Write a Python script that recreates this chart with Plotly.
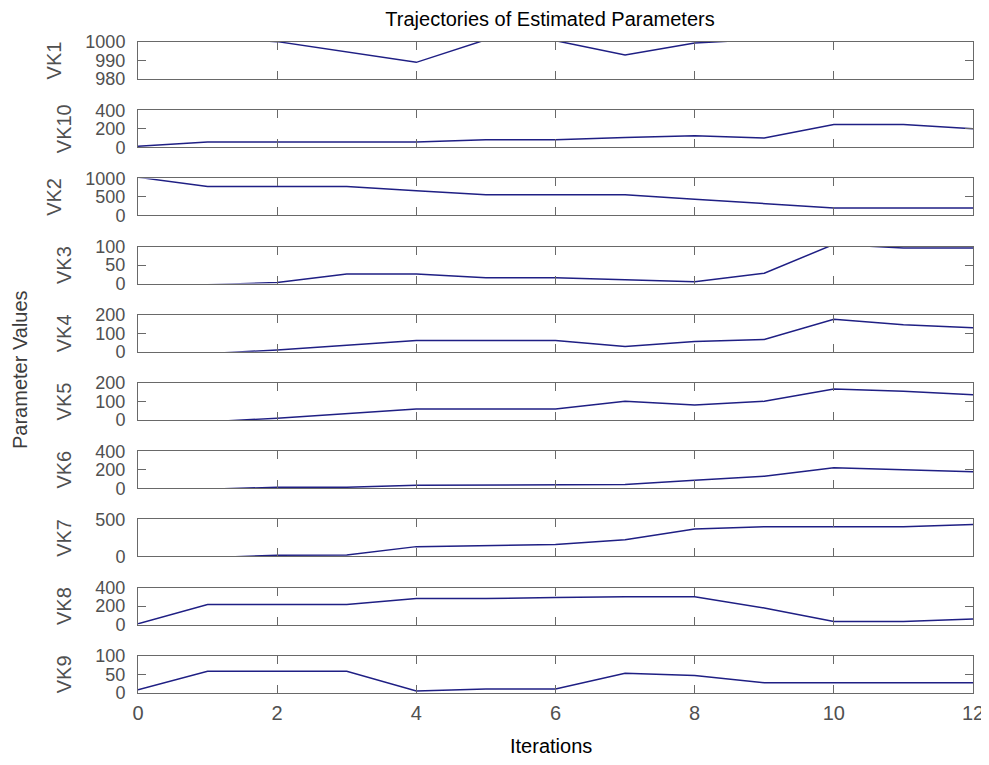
import plotly.graph_objects as go

# ---- data ----
iterations = [0, 1, 2, 3, 4, 5, 6, 7, 8, 9, 10, 11, 12]
panel_names = ["VK1", "VK10", "VK2", "VK3", "VK4", "VK5", "VK6", "VK7", "VK8", "VK9"]

vk1 = [1003, 1002, 1000.2, 994.5, 989, 1001.2, 1000.7, 993, 999.4, 1001.5, 1003, 1003, 1003]
vk10 = [10, 56, 56, 56, 56, 81, 81, 105, 123, 100, 245, 245, 200]
vk2 = [1030, 780, 780, 780, 668, 557, 557, 557, 437, 315, 200, 200, 200]
vk3 = [-3, -3, 3, 26, 26, 16, 16, 10, 5, 28, 106, 96, 96]
vk4 = [-10, -10, 10, 36, 61, 61, 61, 29, 56, 67, 176, 146, 130]
vk5 = [-10, -10, 10, 36, 59, 59, 59, 101, 81, 101, 167, 155, 136]
vk6 = [-10, -10, 10, 10, 32, 32, 32, 40, 85, 130, 221, 200, 179]
vk7 = [-17, -17, 17, 20, 132, 149, 160, 225, 370, 400, 400, 400, 432]
vk8 = [10, 217, 217, 217, 282, 282, 292, 301, 301, 180, 34, 34, 61]
vk9 = [8, 58, 58, 58, 5, 10, 10, 53, 47, 27, 27, 27, 27]

series = [vk1, vk10, vk2, vk3, vk4, vk5, vk6, vk7, vk8, vk9]

y_ranges = [[980, 1000], [0, 400], [0, 1000], [0, 100], [0, 200],
            [0, 200], [0, 400], [0, 500], [0, 400], [0, 100]]
y_ticks = [[980, 990, 1000], [0, 200, 400], [0, 500, 1000], [0, 50, 100], [0, 100, 200],
           [0, 100, 200], [0, 200, 400], [0, 500], [0, 200, 400], [0, 50, 100]]
x_ticks = [0, 2, 4, 6, 8, 10, 12]

title_text = "Trajectories of Estimated Parameters"
x_title = "Iterations"
y_title = "Parameter Values"

# ---- figure ----
# the page body has an 8px margin, so figure coords = page coords - 8
OFF = 8
W, H = 989 - OFF, 765 - 2 * OFF
plot_left, plot_right, plot_top, plot_bottom = 138 - OFF, 973 - OFF, 42 - OFF, 693 - OFF
mt, mb, ml, mr = plot_top, H - plot_bottom, plot_left, W - plot_right
plot_h = H - mt - mb
plot_w = W - ml - mr
period, ph = 68.2, 37.0

FONT = "Liberation Sans, Arial, sans-serif"
AXCOL = "rgb(105,105,105)"
TXTCOL = "rgb(80,80,80)"
LINECOL = "#1f1f84"

fig = go.Figure()
layout = dict(
    width=W, height=H,
    margin=dict(l=ml, r=mr, t=mt, b=mb, autoexpand=False),
    paper_bgcolor="white", plot_bgcolor="white",
    showlegend=False,
    font=dict(family=FONT, size=20, color=TXTCOL),
)

n = len(panel_names)
for i in range(n):
    sfx = "" if i == 0 else str(i + 1)
    fig.add_trace(go.Scatter(
        x=iterations, y=series[i], mode="lines",
        line=dict(color=LINECOL, width=1.5),
        xaxis="x" + sfx, yaxis="y" + sfx, hoverinfo="skip",
    ))
    top_px = i * period
    y1 = 1 - top_px / plot_h
    y0 = 1 - (top_px + ph) / plot_h
    layout["xaxis" + sfx] = dict(
        domain=[0, 1], anchor="y" + sfx, range=[0, 12], automargin=False,
        tickvals=x_ticks, ticks="inside", ticklen=8, tickwidth=1, tickcolor=AXCOL,
        showline=True, linecolor=AXCOL, linewidth=1, mirror="allticks",
        showgrid=False, zeroline=False,
        showticklabels=(i == n - 1), ticklabelstandoff=2,
        tickfont=dict(size=20, color=TXTCOL, family=FONT),
    )
    layout["yaxis" + sfx] = dict(
        domain=[y0, y1], anchor="x" + sfx, range=y_ranges[i], automargin=False,
        tickvals=y_ticks[i], ticks="inside", ticklen=8, tickwidth=1, tickcolor=AXCOL,
        showline=True, linecolor=AXCOL, linewidth=1, mirror="allticks",
        showgrid=False, zeroline=False, ticklabelstandoff=8,
        tickfont=dict(size=18, color=TXTCOL, family=FONT),
        title=dict(text=panel_names[i], standoff=18,
                   font=dict(size=20, color=TXTCOL, family=FONT)),
    )

layout["title"] = dict(text=title_text, x=(550 - OFF - ml) / plot_w, xanchor="center",
                       xref="paper", y=1.0, yanchor="top", pad=dict(t=4),
                       font=dict(size=20, color="black", family=FONT))
layout["annotations"] = [
    dict(text=x_title, xref="paper", yref="paper", x=(551 - OFF - ml) / plot_w,
         y=1 - (746 - OFF - mt) / plot_h, xanchor="center", yanchor="middle",
         showarrow=False, font=dict(size=20, color="black", family=FONT)),
    dict(text=y_title, xref="paper", yref="paper", x=(20 - OFF - ml) / plot_w,
         y=1 - (370 - OFF - mt) / plot_h, xanchor="center", yanchor="middle", textangle=-90,
         showarrow=False, font=dict(size=20, color="rgb(60,60,60)", family=FONT)),
]
fig.update_layout(**layout)
fig.write_html("out.html")
